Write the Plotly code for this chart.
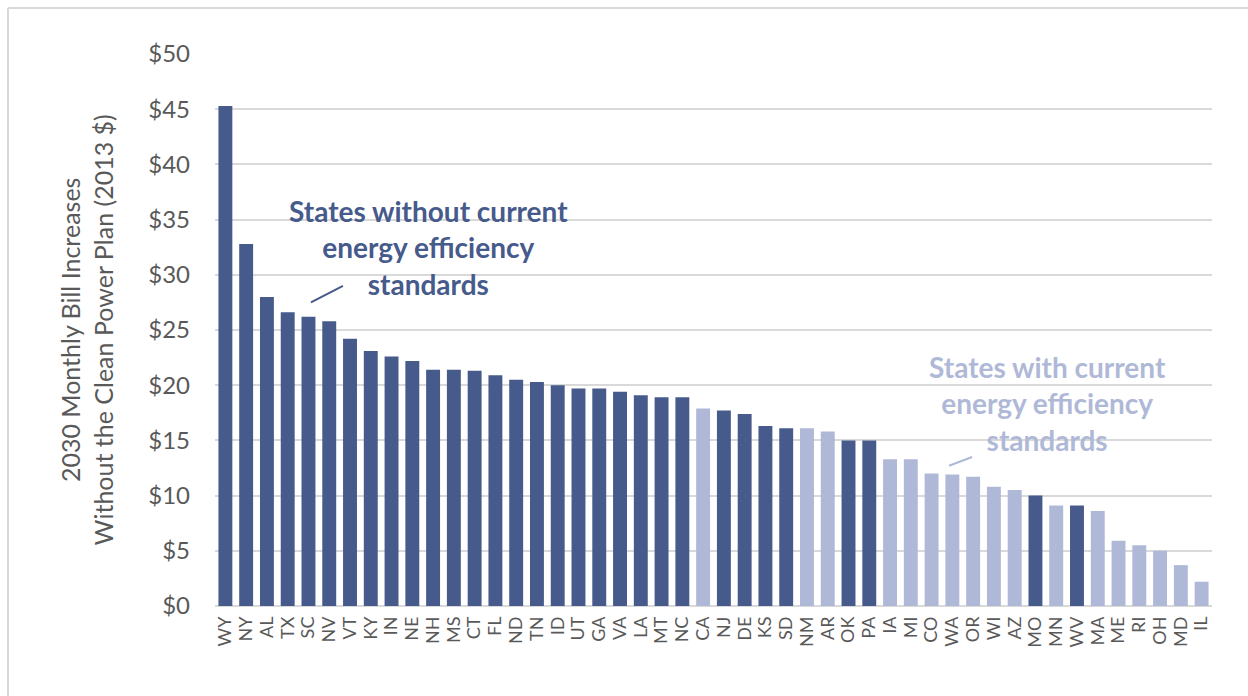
import plotly.graph_objects as go

states = ["WY", "NY", "AL", "TX", "SC", "NV", "VT", "KY", "IN", "NE", "NH", "MS",
          "CT", "FL", "ND", "TN", "ID", "UT", "GA", "VA", "LA", "MT", "NC", "CA",
          "NJ", "DE", "KS", "SD", "NM", "AR", "OK", "PA", "IA", "MI", "CO", "WA",
          "OR", "WI", "AZ", "MO", "MN", "WV", "MA", "ME", "RI", "OH", "MD", "IL"]
bill_increase = [45.3, 32.8, 28.0, 26.6, 26.2, 25.8, 24.2, 23.1, 22.6, 22.2, 21.4, 21.4,
                 21.3, 20.9, 20.5, 20.3, 20.0, 19.7, 19.7, 19.4, 19.1, 18.9, 18.9, 17.9,
                 17.7, 17.4, 16.3, 16.1, 16.1, 15.8, 15.0, 15.0, 13.3, 13.3, 12.0, 11.9,
                 11.7, 10.8, 10.5, 10.0, 9.1, 9.1, 8.6, 5.9, 5.5, 5.0, 3.7, 2.2]
has_ee_standard = [0, 0, 0, 0, 0, 0, 0, 0, 0, 0, 0, 0,
                   0, 0, 0, 0, 0, 0, 0, 0, 0, 0, 0, 1,
                   0, 0, 0, 0, 1, 1, 0, 0, 1, 1, 1, 1,
                   1, 1, 1, 0, 1, 0, 1, 1, 1, 1, 1, 1]
y_ticks = [0, 5, 10, 15, 20, 25, 30, 35, 40, 45, 50]
y_tick_labels = ["$0", "$5", "$10", "$15", "$20", "$25", "$30", "$35", "$40", "$45", "$50"]

DARK = "#465A8B"
LIGHT = "#AFB9D7"
GRID = "#D9D9D9"
TXT = "#595959"
FONT = "Lato"

colors = [LIGHT if f else DARK for f in has_ee_standard]

fig = go.Figure()
fig.add_trace(go.Bar(x=states, y=bill_increase, marker=dict(color=colors, line=dict(width=0)),
                     showlegend=False))

fig.update_layout(
    width=1248, height=696,
    margin=dict(l=215, r=36, t=54, b=90),
    paper_bgcolor="white", plot_bgcolor="white",
    bargap=0.33,
    font=dict(family=FONT, color=TXT),
    xaxis=dict(type="category", tickmode="array", tickvals=states, ticktext=states,
               tickangle=-90, tickfont=dict(size=18, color=TXT, family=FONT),
               showgrid=False, showline=False, ticks="", ticklabelstandoff=6),
    yaxis=dict(range=[0, 50], tickvals=y_ticks, ticktext=y_tick_labels,
               tickfont=dict(size=24, color=TXT, family=FONT),
               showgrid=True, gridcolor=GRID, gridwidth=1.5,
               zeroline=True, zerolinecolor=GRID, zerolinewidth=2,
               showline=False, ticks="", ticklabelstandoff=24),
)

fig.add_annotation(xref="paper", yref="paper", x=-0.129, y=0.5,
                   text="2030 Monthly Bill Increases<br>Without the Clean Power Plan (2013 $)",
                   textangle=-90, showarrow=False, xanchor="center", yanchor="middle",
                   font=dict(size=25, color=TXT, family=FONT))

fig.add_annotation(x=9.8, y=32.45, xref="x", yref="y",
                   text="<b>States without current<br>energy efficiency<br>standards</b>",
                   showarrow=False, xanchor="center", yanchor="middle",
                   font=dict(size=28, color=DARK, family=FONT))
fig.add_annotation(x=39.56, y=18.3, xref="x", yref="y",
                   text="<b>States with current<br>energy efficiency<br>standards</b>",
                   showarrow=False, xanchor="center", yanchor="middle",
                   font=dict(size=28, color=LIGHT, family=FONT))

fig.add_shape(type="line", xref="x", yref="y", x0=4.12, y0=27.5, x1=5.66, y1=29.0,
              line=dict(color=DARK, width=2))
fig.add_shape(type="line", xref="x", yref="y", x0=34.84, y0=12.7, x1=35.95, y1=13.5,
              line=dict(color=LIGHT, width=2))

# outer frame (top and left edges visible)
fig.add_shape(type="line", xref="paper", yref="paper", x0=-0.2076, y0=1.0833, x1=1.1, y1=1.0833,
              line=dict(color=GRID, width=2))
fig.add_shape(type="line", xref="paper", yref="paper", x0=-0.2076, y0=1.0833, x1=-0.2076, y1=-0.2,
              line=dict(color=GRID, width=2))

fig.write_html("out.html")
